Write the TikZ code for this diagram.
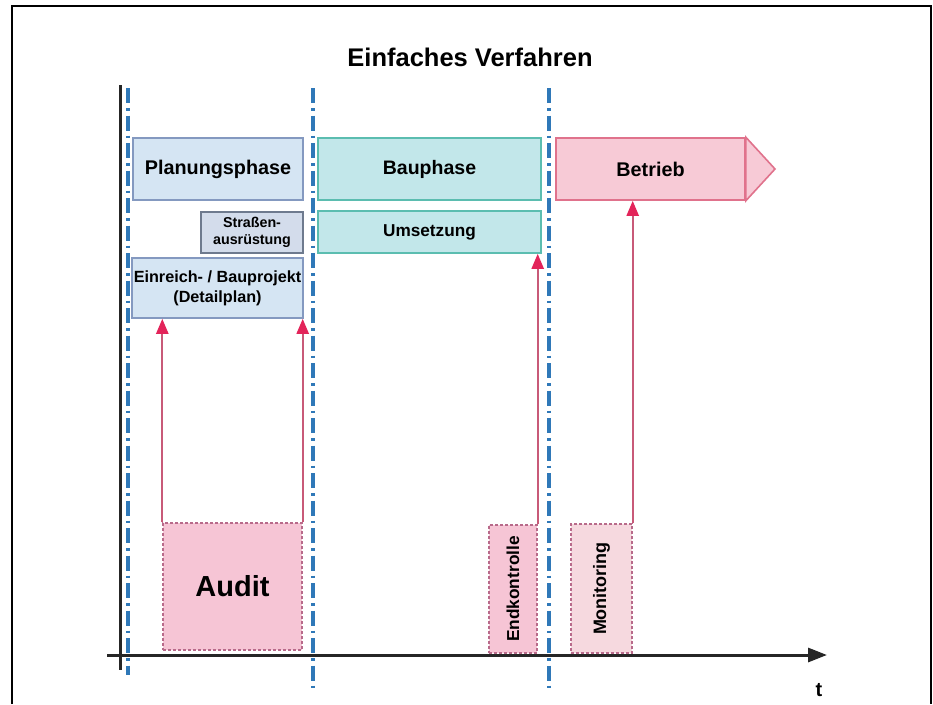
\documentclass[tikz,border=0pt]{standalone}
\usepackage{fontspec}
\setmainfont{Liberation Sans}
\usetikzlibrary{arrows.meta}
\definecolor{planfill}{HTML}{D5E5F3}
\definecolor{planline}{HTML}{8499C0}
\definecolor{strfill}{HTML}{D3DCEB}
\definecolor{strline}{HTML}{6E7A8E}
\definecolor{baufill}{HTML}{C2E7EA}
\definecolor{bauline}{HTML}{5BBDB0}
\definecolor{betfill}{HTML}{F7CAD6}
\definecolor{betline}{HTML}{E0728C}
\definecolor{audfill}{HTML}{F6C5D5}
\definecolor{audline}{HTML}{B86A8A}
\definecolor{monfill}{HTML}{F6D9DF}
\definecolor{arrline}{HTML}{C85A78}
\definecolor{arrhead}{HTML}{E3245A}
\definecolor{sepblue}{HTML}{2F78B8}
\tikzset{
  box/.style={draw, line width=1.6pt, inner sep=0pt, align=center, font=\bfseries},
  planbox/.style={box, fill=planfill, draw=planline},
  strbox/.style={box, fill=strfill, draw=strline},
  baubox/.style={box, fill=baufill, draw=bauline},
  betbox/.style={box, fill=betfill, draw=betline},
  checkbox/.style={draw=audline, line width=1.4pt, densely dashed, inner sep=0pt, align=center, font=\bfseries},
  sep/.style={draw=sepblue, line width=3.4pt, dash pattern=on 15pt off 5pt on 2.5pt off 5pt},
  uparrow/.style={draw=arrline, line width=2.3pt, -{Triangle[length=15pt,width=12pt,color=arrhead]}},
}
\begin{document}
\begin{tikzpicture}[x=1pt,y=-1pt]
\useasboundingbox (0,0) rectangle (933,704);
\fill[white] (0,0) rectangle (933,704);
% frame
\draw[line width=2.4pt] (12,704) -- (12,6) -- (931,6) -- (931,704);
% title
\node[font=\bfseries\fontsize{25.5}{30}\selectfont] (title) at (470,57) {Einfaches Verfahren};
% separators
\coordinate (s0a) at (128,88); \coordinate (s0b) at (128,675);
\coordinate (s1a) at (313,88); \coordinate (s1b) at (313,692);
\coordinate (s2a) at (549,88); \coordinate (s2b) at (549,692);
\draw[sep] (s0a) -- (s0b);
\draw[sep] (s1a) -- (s1b);
\draw[sep] (s2a) -- (s2b);
% vertical black line and time axis
\coordinate (va) at (120,85); \coordinate (vb) at (120,670);
\draw[line width=3pt, draw=black!85] (va) -- (vb);
\coordinate (ax0) at (107,655); \coordinate (ax1) at (827,655);
\draw[line width=3pt, draw=black!85, -{Triangle[length=19pt,width=14pt]}] (ax0) -- (ax1);
\node[font=\bfseries\fontsize{20}{24}\selectfont] (t) at (819,690) {t};
% phase boxes
\node[planbox, minimum width=170pt, minimum height=62pt, font=\bfseries\fontsize{19.8}{22}\selectfont] (plan) at (218,169) {Planungsphase};
\node[strbox, minimum width=102pt, minimum height=41pt, font=\bfseries\fontsize{14.3}{17}\selectfont] (str) at (252,232.5) {Straßen-\\ausrüstung};
\node[planbox, minimum width=171pt, minimum height=60pt, font=\bfseries\fontsize{16.2}{20}\selectfont] (ein) at (217.5,288) {Einreich- / Bauprojekt\\(Detailplan)};
\node[baubox, minimum width=223pt, minimum height=62pt, font=\bfseries\fontsize{19.5}{22}\selectfont] (bau) at (429.5,169) {Bauphase};
\node[baubox, minimum width=223pt, minimum height=42pt, font=\bfseries\fontsize{17.2}{20}\selectfont] (ums) at (429.5,232) {Umsetzung};
\node[betbox, minimum width=189pt, minimum height=62pt, font=\bfseries\fontsize{19.8}{22}\selectfont] (bet) at (650.5,169) {Betrieb};
\coordinate (tip) at (775,169);
\draw[betline, fill=betfill, line width=1.6pt, line join=miter] (bet.north east) -- (tip) -- (bet.south east) -- cycle;
% checks
\node[checkbox, fill=audfill, minimum width=139pt, minimum height=127pt, font=\bfseries\fontsize{29}{34}\selectfont] (audit) at (232.5,586.5) {Audit};
\node[checkbox, fill=audfill, minimum width=48pt, minimum height=128pt] (endk) at (513,589) {};
\node[rotate=90, font=\bfseries\fontsize{17.3}{20}\selectfont] (endkt) at (endk.center) {Endkontrolle};
\node[checkbox, fill=monfill, minimum width=61pt, minimum height=129pt] (mon) at (601.5,588.5) {};
\node[rotate=90, font=\bfseries\fontsize{18}{21}\selectfont] (mont) at (mon.center) {Monitoring};
% arrows
\draw[uparrow] (audit.north west) -- (audit.north west |- ein.south);
\draw[uparrow] (audit.north east) -- (audit.north east |- ein.south);
\draw[uparrow] (endk.north east) -- (endk.north east |- ums.south);
\draw[uparrow] (mon.north east) -- (mon.north east |- bet.south);
\end{tikzpicture}
\end{document}
